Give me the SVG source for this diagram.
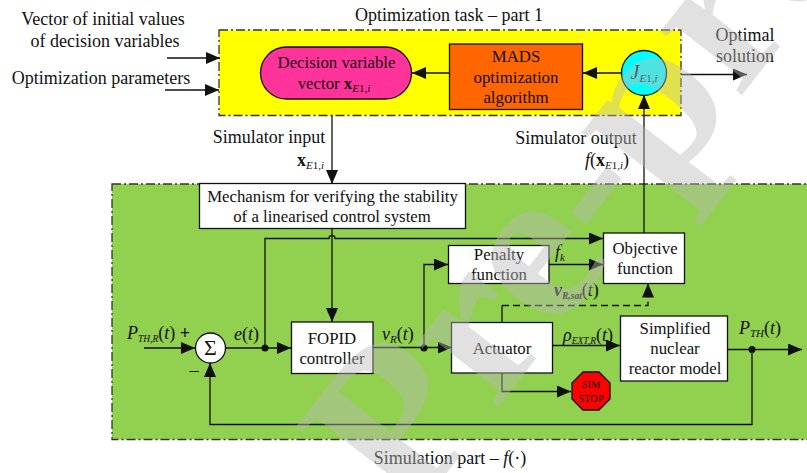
<svg xmlns="http://www.w3.org/2000/svg" width="807" height="473" viewBox="0 0 807 473">
<style>
text{font-family:"Liberation Serif","Times New Roman",serif;font-size:18px;fill:#111;text-anchor:middle}
.n{font-size:16.8px}
.m{font-size:18px;text-anchor:start;font-style:italic}
.s{text-anchor:start}
.i{font-style:italic}
.r{font-style:normal;font-weight:normal}
.sub{font-size:11px;font-style:italic;font-weight:normal}
.subn{font-size:11px;font-style:normal;font-weight:normal}
.sm{font-size:9.5px;font-style:italic;font-weight:normal}
.b{font-weight:bold}
.sym{font-size:22px}
.stop{font-size:10.5px}
.box{stroke:#111;stroke-width:1.3;fill:#fff}
.panel{stroke:#333;stroke-width:1.3;stroke-dasharray:9 3 2 3}
.c{fill:none;stroke:#111;stroke-width:1.3}
.a{marker-end:url(#arrow)}
.dot{fill:#111}
#watermark{text-anchor:start;font-size:225px;font-weight:bold;fill:#bababa;opacity:.43}
</style>
<defs>
<marker id="arrow" markerUnits="userSpaceOnUse" markerWidth="15" markerHeight="12" refX="14" refY="6" orient="auto"><path d="M0 0L14 6L0 12z" fill="#111"/></marker>
</defs>
<g id="panel-optimization"><rect class="panel" x="219" y="30" width="462" height="85.500" fill="#ffff00"/></g>
<g id="panel-simulation"><rect class="panel" x="112" y="184" width="700" height="255.500" fill="#92d050"/></g>

<g id="connectors">
<path class="c a" d="M167 58H220"/>
<path class="c a" d="M165 90H219"/>
<path class="c a" d="M449 73H412"/>
<path class="c a" d="M622 73H583"/>
<path class="c a" d="M681 74.500H747"/>
<path class="c a" d="M332 115.500V184"/>
<path class="c a" d="M644 233V95"/>
<path class="c a" d="M332 229V322"/>
<path class="c a" d="M265 348V238.500H329a3 3 0 0 1 6 0H603"/>
<path class="c a" d="M144 348H195"/>
<path class="c a" d="M225 348H291"/>
<path class="c a" d="M373 347.500H452"/>
<path class="c a" d="M424 347.500V264.500H448"/>
<path class="c a" d="M549 264.500H603"/>
<path class="c a" d="M552 345.500H620"/>
<path class="c a" d="M727 349.500H802"/>
<path class="c a" d="M752 349.500V424.500H210V363"/>
<path class="c a" d="M502 373V391.500H571"/>
<path class="c" d="M502 322V305.500"/>
<path class="c a" d="M502 305.500H648V283.500" stroke-dasharray="7 4"/>
<circle class="dot" cx="265" cy="348" r="3.500"/>
<circle class="dot" cx="424" cy="348" r="3.500"/>
<circle class="dot" cx="752" cy="349.500" r="3.500"/>
</g>

<g id="node-decision"><rect x="260.500" y="47" width="151" height="52" rx="26" ry="26" stroke="#111" stroke-width="1.300" fill="#ff3399"/>
<text class="n" x="336.500" y="68">Decision variable</text><text class="n" x="334" y="89">vector <tspan class="b">x</tspan><tspan class="sub" dy="3">E</tspan><tspan class="subn">1,</tspan><tspan class="sub">i</tspan></text></g>
<g id="node-mads"><rect x="449.500" y="44" width="133" height="65.500" stroke="#111" stroke-width="1.300" fill="#ff6600"/>
<text class="n" x="516" y="62">MADS</text><text class="n" x="516" y="83">optimization</text><text class="n" x="516" y="103">algorithm</text></g>
<g id="node-j"><circle cx="644" cy="73" r="22.500" stroke="#111" stroke-width="1.300" fill="#00ffff"/>
<text x="644" y="79" class="i"><tspan style="font-size:20px">J</tspan><tspan class="sub" dy="3">E</tspan><tspan class="subn">1,</tspan><tspan class="sub">i</tspan></text></g>
<g id="node-mechanism"><rect class="box" x="199.500" y="183.500" width="266" height="45"/>
<text class="n" x="332.500" y="202">Mechanism for verifying the stability</text><text class="n" x="332" y="222">of a linearised control system</text></g>
<g id="node-sum"><circle class="box" cx="210.500" cy="348" r="15"/><text class="sym" x="210.500" y="355">Σ</text></g>
<g id="node-fopid"><rect class="box" x="291.500" y="322" width="81.500" height="51.500"/>
<text class="n" x="332" y="344">FOPID</text><text class="n" x="332" y="364">controller</text></g>
<g id="node-penalty"><rect class="box" x="448.500" y="245.500" width="100.500" height="38"/>
<text class="n" x="499" y="260">Penalty</text><text class="n" x="499" y="280">function</text></g>
<g id="node-objective"><rect class="box" x="603.500" y="233" width="81" height="50.500"/>
<text class="n" x="645" y="254">Objective</text><text class="n" x="645" y="274">function</text></g>
<g id="node-actuator"><rect class="box" x="451.500" y="322.500" width="101" height="50.500"/>
<text class="n" x="502" y="354">Actuator</text></g>
<g id="node-reactor"><rect class="box" x="620.500" y="316" width="107" height="65"/>
<text class="n" x="675" y="334">Simplified</text><text class="n" x="675" y="354">nuclear</text><text class="n" x="675" y="374">reactor model</text></g>
<g id="node-stop"><polygon points="583,372 599,372 610,383 610,399 599,410 583,410 572,399 572,383" fill="#ff0000" stroke="#111" stroke-width="1.300"/>
<text class="stop" x="591" y="388">SIM</text><text class="stop" x="591" y="402">STOP</text></g>

<g id="labels">
<text x="103" y="25">Vector of initial values</text>
<text x="105" y="47">of decision variables</text>
<text x="101" y="84">Optimization parameters</text>
<text x="449" y="21">Optimization task – part 1</text>
<text x="745" y="41">Optimal</text>
<text x="745" y="62">solution</text>
<text x="269" y="143">Simulator input</text>
<text x="297" y="166" class="s b">x<tspan class="sub" dy="3">E</tspan><tspan class="subn">1,</tspan><tspan class="sub">i</tspan></text>
<text x="576" y="144">Simulator output</text>
<text x="585" y="166" class="s i">f<tspan class="r">(</tspan><tspan class="r b">x</tspan><tspan class="sub" dy="3">E</tspan><tspan class="subn">1,</tspan><tspan class="sub">i</tspan><tspan class="r" dy="-3">)</tspan></text>
<text x="127" y="339" class="m">P<tspan class="sm" dy="3">TH,R</tspan><tspan class="r" dy="-3">(</tspan>t<tspan class="r">)</tspan></text>
<text x="185" y="339" class="b">+</text>
<text x="194" y="376">–</text>
<text x="234" y="340" class="m">e<tspan class="r">(</tspan>t<tspan class="r">)</tspan></text>
<text x="382" y="340" class="m">v<tspan class="sub" dy="3">R</tspan><tspan class="r" dy="-3">(</tspan>t<tspan class="r">)</tspan></text>
<text x="555" y="258" class="m">f<tspan class="sub" dy="3">k</tspan></text>
<text x="554" y="296" class="m"><tspan class="b">v</tspan><tspan class="sm b" dy="3">R,sat</tspan><tspan class="r" dy="-3">(</tspan>t<tspan class="r">)</tspan></text>
<text x="563" y="341" class="m">ρ<tspan class="sm" dy="3">EXT,R</tspan><tspan class="r" dy="-3">(</tspan>t<tspan class="r">)</tspan></text>
<text x="739" y="334" class="m">P<tspan class="sub" dy="3">TH</tspan><tspan class="r" dy="-3">(</tspan>t<tspan class="r">)</tspan></text>
<text x="450" y="464">Simulation part – <tspan class="i">f</tspan>(·)</text>
</g>

<text id="watermark" transform="translate(410 520) rotate(-52)">Pre-proof</text>
</svg>
